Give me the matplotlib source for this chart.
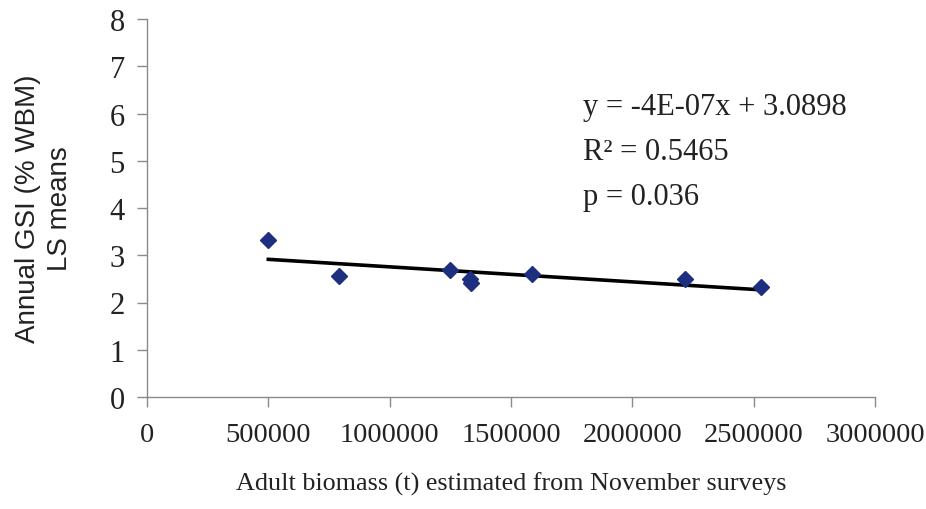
import numpy as np
import matplotlib
matplotlib.use("Agg")
import matplotlib.pyplot as plt

# Data
biomass = [500000, 792000, 1249000, 1332000, 1336000, 1585000, 2216000, 2531000]
gsi = [3.32, 2.56, 2.69, 2.49, 2.42, 2.60, 2.50, 2.33]
x_ticks = [0, 500000, 1000000, 1500000, 2000000, 2500000, 3000000]
y_ticks = [0, 1, 2, 3, 4, 5, 6, 7, 8]
eq_lines = ["y = -4E-07x + 3.0898", "R² = 0.5465", "p = 0.036"]

serif = ["Liberation Serif", "DejaVu Serif"]
sans = ["Liberation Sans", "DejaVu Sans"]

fig = plt.figure(figsize=(9.26, 5.10), dpi=100)
ax = fig.add_axes([147/926, 1-398/510, (875-147)/926, (398-20)/510])

ax.plot(biomass, gsi, linestyle="none", marker="D", markersize=8,
        color="#1f2f80", markeredgecolor="#1f2f80", zorder=3)

coef = np.polyfit(biomass, gsi, 1)
xl = np.array([min(biomass), max(biomass)])
ax.plot(xl, np.polyval(coef, xl), color="black", linewidth=2.6, zorder=2)

ax.set_xlim(0, 3000000)
ax.set_ylim(0, 8)
ax.set_xticks(x_ticks)
ax.set_xticklabels([str(v) for v in x_ticks], family=serif, fontsize=20.5, color="#222222")
ax.set_yticks(y_ticks)
ax.set_yticklabels([str(v) for v in y_ticks], family=serif, fontsize=22, color="#222222")

for s in ["top", "right"]:
    ax.spines[s].set_visible(False)
for s in ["left", "bottom"]:
    ax.spines[s].set_color("#8a8a8a")
    ax.spines[s].set_linewidth(1.0)
ax.tick_params(axis="both", direction="out", length=7, width=1.0, color="#8a8a8a")
ax.tick_params(axis="y", pad=9)
ax.tick_params(axis="x", pad=11)

ax.set_xlabel("Adult biomass (t) estimated from November surveys",
              family=serif, fontsize=18.8, color="#222222", labelpad=18)
ax.set_ylabel("Annual GSI (% WBM)\nLS means", family=sans, fontsize=20,
              color="#222222", labelpad=26, linespacing=1.3)

for i, t in enumerate(eq_lines):
    fig.text(583/926, 1 - (108 + 45*i)/510, t, family=serif, fontsize=22,
             color="#222222", ha="left", va="center")

fig.savefig("out.png", dpi=100)
